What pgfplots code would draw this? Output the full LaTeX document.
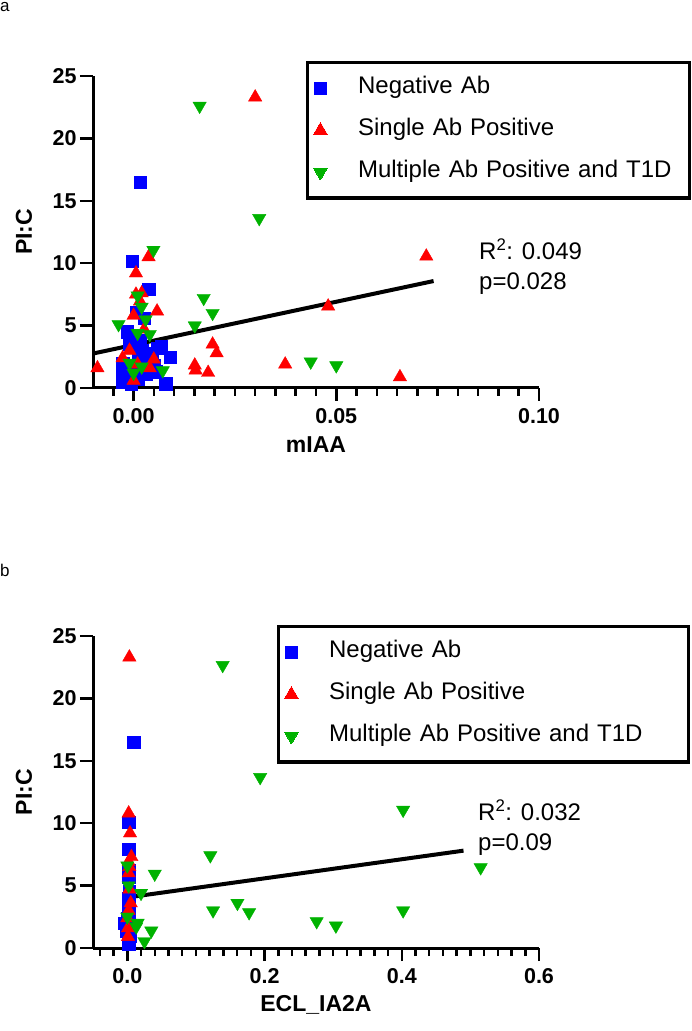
\documentclass[border=0pt]{standalone}
\usepackage{pgfplots}
\pgfplotsset{compat=1.18}
\usepackage{fontspec}
\setmainfont{Liberation Sans}
\definecolor{cblue}{RGB}{0,0,255}
\definecolor{cred}{RGB}{255,0,0}
\definecolor{cgreen}{RGB}{0,178,0}

\pgfplotsset{
 prism/.style={
  scale only axis, width=446pt, height=312pt, anchor=south west,
  axis lines=left, axis line style={line width=3pt,-},
  tick align=outside, major tick length=13pt, minor tick length=8pt,
  tick style={black, line width=2.5pt},
  tick label style={font=\fontsize{21.5}{21.5}\selectfont\bfseries},
  xticklabel style={yshift=-4pt},
  /pgf/number format/assume math mode=true,
  ymin=0, ymax=25, ytick={0,5,10,15,20,25},
  label style={font=\fontsize{23}{23}\selectfont\bfseries},
  ylabel style={at={(axis description cs:-0.1547,0.5)}, anchor=center},
  xlabel style={at={(axis description cs:0.5,-0.1827)}, anchor=center},
  clip=false,
  legend cell align=left,
  legend image code/.code={\draw[mark repeat=2,mark phase=2,#1,line width=0pt] plot coordinates {(-6pt,0pt) (0pt,0pt) (6pt,0pt)};},
 },
 negs/.style={only marks, mark=square*, mark size=6.2pt, cblue, mark options={draw=none, fill=cblue}},
 sing/.style={only marks, mark=triangle*, mark size=7.7pt, cred, mark options={draw=none, fill=cred}},
 mult/.style={only marks, mark=triangle*, mark size=7.7pt, cgreen, mark options={draw=none, fill=cgreen, rotate=180}},
}

\begin{document}
\begin{tikzpicture}
\path (0pt,0pt) rectangle (689pt,1031pt);
\node[anchor=base west, inner sep=0pt, font=\fontsize{17}{17}\selectfont] at (0pt,1019pt) {a};
\node[anchor=base west, inner sep=0pt, font=\fontsize{17}{17}\selectfont] at (0pt,454pt) {b};

% ---------------- panel a ----------------
\begin{axis}[prism, at={(93pt,643pt)},
  xmin=-0.01, xmax=0.1, xtick={0,0.05,0.1},
  minor xtick={-0.005,0.005,0.01,0.015,0.02,0.025,0.03,0.035,0.04,0.045,0.055,0.06,0.065,0.07,0.075,0.08,0.085,0.09,0.095},
  xticklabel style={/pgf/number format/.cd, fixed, fixed zerofill, precision=2},
  xlabel={mIAA}, ylabel={PI:C},
  legend style={at={(axis description cs:0.4770,1.0489)}, anchor=north west,
    draw=black, line width=3.5pt, font=\fontsize{24}{24}\selectfont,
    inner xsep=6.25pt, inner ysep=14pt, row sep=18.5pt, column sep=31pt,
    nodes={inner sep=0pt, text height=17pt, text depth=6.5pt, text width=325pt, align=left}},
]
\addplot[negs] coordinates {
(-0.0004,10.15) (0.0017,16.5) (0.0037,7.9) (0.0006,6.05) (0.0026,5.6) (-0.0016,4.5)
(0.0068,3.3) (0.009,2.45) (0.005,1.85) (0.0079,0.35) (-0.0027,2.0) (-0.0027,1.5)
(-0.0027,1.0) (-0.0027,0.5) (-0.0006,0.3) (0.0015,3.8) (0.002,3.0) (0.0022,2.4)
(0.0025,1.8) (0.003,1.1) (0.001,0.7) (0.0045,2.8) (0.004,2.2) (0.0035,1.5)
(0.0012,2.6) (-0.001,3.5) (0.0005,1.2) (0.0055,1.3) (0.006,3.2)
};
\addlegendentry{Negative Ab}
\addplot[sing] coordinates {
(-0.0089,1.6) (-0.0027,2.4) (0.0006,9.2) (0.0006,7.5) (0.0016,6.95) (0.0037,10.5)
(0.0058,6.15) (0.0026,4.7) (0.0151,1.82) (0.0153,1.42) (0.0184,1.23) (0.0195,3.5)
(0.0205,2.8) (0.0300,23.3) (0.0374,1.9) (0.0480,6.55) (0.0657,0.88) (0.0722,10.55)
(-0.001,3.0) (0.000,0.6) (0.004,1.6) (0.000,5.8) (0.002,7.6) (0.001,1.9) (0.005,2.3)
};
\addlegendentry{Single Ab Positive}
\addplot[mult] coordinates {
(0.0049,11.05) (-0.0037,5.1) (0.0163,22.6) (0.0310,13.6) (0.0173,7.2) (0.0195,6.0)
(0.0151,5.0) (0.0437,2.1) (0.0500,1.8) (0.0072,1.4) (0.0010,7.4) (0.0020,6.5)
(0.0010,4.4) (0.0040,4.3) (-0.0010,2.0) (0.0000,1.2) (0.0020,1.7) (0.0030,5.5)
};
\addlegendentry{Multiple Ab Positive and T1D}
\addplot[black, line width=4pt, no marks, forget plot] coordinates {(-0.01,2.76) (0.074,8.57)};
\end{axis}
\node[anchor=west, inner sep=0pt, font=\fontsize{24}{24}\selectfont] at (479pt,782pt) {R\textsuperscript{2}: 0.049};
\node[anchor=west, inner sep=0pt, font=\fontsize{24}{24}\selectfont] at (479pt,747pt) {p=0.028};

% ---------------- panel b ----------------
\begin{axis}[prism, at={(93pt,83pt)},
  xmin=-0.05, xmax=0.6, xtick={0,0.2,0.4,0.6},
  minor xtick={-0.04,-0.02,0.02,0.04,0.06,0.08,0.1,0.12,0.14,0.16,0.18,0.22,0.24,0.26,0.28,0.3,0.32,0.34,0.36,0.38,0.42,0.44,0.46,0.48,0.5,0.52,0.54,0.56,0.58},
  xticklabel style={/pgf/number format/.cd, fixed, fixed zerofill, precision=1},
  xlabel={ECL\_IA2A}, ylabel={PI:C},
  legend style={at={(axis description cs:0.4120,1.0361)}, anchor=north west,
    draw=black, line width=3.5pt, font=\fontsize{24}{24}\selectfont,
    inner xsep=6.25pt, inner ysep=14pt, row sep=18.5pt, column sep=31pt,
    nodes={inner sep=0pt, text height=17pt, text depth=6.5pt, text width=353pt, align=left}},
]
\addplot[negs] coordinates {
(0.0096,16.5) (0.002,10.1) (0.002,7.9) (0.002,6.2) (0.002,5.7) (0.003,4.5) (0.002,4.0)
(0.001,3.5) (0.002,3.0) (0.001,2.6) (0.002,2.2) (0.000,1.8) (0.002,1.5) (0.001,1.2)
(0.002,0.9) (0.001,0.6) (0.002,0.3) (-0.004,2.0) (0.004,1.0) (0.003,3.3) (0.000,2.4)
(0.003,0.5) (-0.002,1.4)
};
\addlegendentry{Negative Ab}
\addplot[sing] coordinates {
(0.003,23.3) (0.002,10.8) (0.004,9.2) (0.006,7.3) (0.002,6.9) (0.003,6.5) (0.002,6.0)
(0.003,4.7) (0.002,3.0) (0.000,2.4) (0.001,1.6) (0.001,0.9) (0.005,3.6)
};
\addlegendentry{Single Ab Positive}
\addplot[mult] coordinates {
(0.139,22.66) (0.1936,13.68) (0.402,11.06) (0.121,7.41) (0.040,5.94) (0.515,6.45)
(0.125,3.0) (0.1605,3.6) (0.1775,2.85) (0.276,2.13) (0.304,1.78) (0.402,3.0)
(0.035,1.38) (0.025,0.53) (0.020,4.4) (0.013,1.7) (0.000,6.6) (0.002,5.0) (0.000,2.5) (0.015,2.0)
};
\addlegendentry{Multiple Ab Positive and T1D}
\addplot[black, line width=4pt, no marks, forget plot] coordinates {(0,4.05) (0.49,7.8)};
\end{axis}
\node[anchor=west, inner sep=0pt, font=\fontsize{24}{24}\selectfont] at (478pt,221pt) {R\textsuperscript{2}: 0.032};
\node[anchor=west, inner sep=0pt, font=\fontsize{24}{24}\selectfont] at (478pt,186pt) {p=0.09};
\end{tikzpicture}
\end{document}
